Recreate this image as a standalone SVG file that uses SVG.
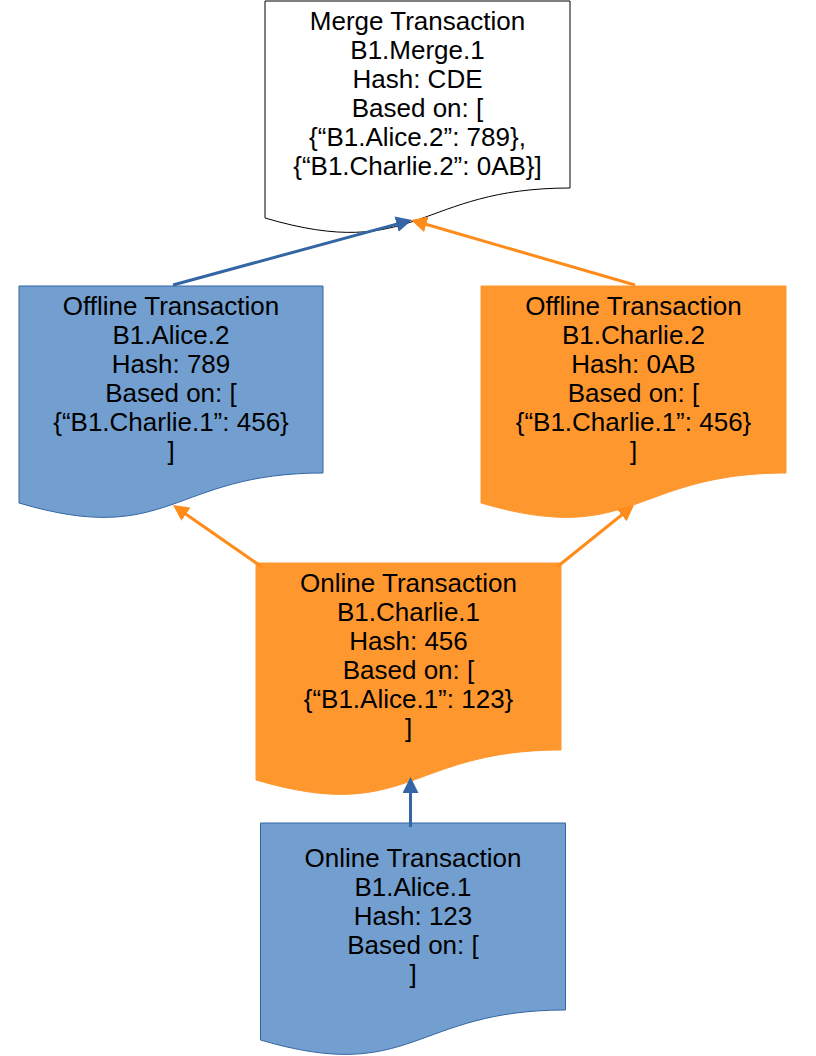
<svg xmlns="http://www.w3.org/2000/svg" width="816" height="1056" viewBox="0 0 816 1056">
<defs>
<style>
.txt{font-family:"Liberation Sans",Arial,sans-serif;font-size:26px;fill:#000;text-anchor:middle}
.white{fill:#ffffff;stroke:#000000;stroke-width:1}
.blue{fill:#729fcf;stroke:#3465a4;stroke-width:1}
.orange{fill:#ff972f;stroke:#ff972f;stroke-width:1}
.cb{fill:none;stroke:#3465a4;stroke-width:3}
.co{fill:none;stroke:#ff8c1a;stroke-width:3}
</style>
<marker id="ab" markerUnits="userSpaceOnUse" markerWidth="16" markerHeight="16" refX="4" refY="8" orient="auto" viewBox="0 0 16 16">
<path d="M0,0 L16,8 L0,16 Z" fill="#3465a4"/>
</marker>
<marker id="ao" markerUnits="userSpaceOnUse" markerWidth="16" markerHeight="16" refX="4" refY="8" orient="auto" viewBox="0 0 16 16">
<path d="M0,0 L16,8 L0,16 Z" fill="#ff8c1a"/>
</marker>
</defs>

<g id="merge">
<path class="white" d="M265,1 H570 V188 C417.5,188 417.5,263 265,218 Z"/>
<text class="txt" x="417.5"><tspan x="417.5" y="30">Merge Transaction</tspan><tspan x="417.5" y="59">B1.Merge.1</tspan><tspan x="417.5" y="88">Hash: CDE</tspan><tspan x="417.5" y="117">Based on: [</tspan><tspan x="417.5" y="146">{“B1.Alice.2”: 789},</tspan><tspan x="417.5" y="175">{“B1.Charlie.2”: 0AB}]</tspan></text>
</g>

<g id="alice2">
<path class="blue" d="M19,286 H323 V473 C171,473 171,548 19,503 Z"/>
<text class="txt"><tspan x="171" y="315">Offline Transaction</tspan><tspan x="171" y="344">B1.Alice.2</tspan><tspan x="171" y="373">Hash: 789</tspan><tspan x="171" y="402">Based on: [</tspan><tspan x="171" y="431">{“B1.Charlie.1”: 456}</tspan><tspan x="171" y="460">]</tspan></text>
</g>

<g id="charlie2">
<path class="orange" d="M481,286 H786 V473 C633.5,473 633.5,548 481,503 Z"/>
<text class="txt"><tspan x="633.5" y="315">Offline Transaction</tspan><tspan x="633.5" y="344">B1.Charlie.2</tspan><tspan x="633.5" y="373">Hash: 0AB</tspan><tspan x="633.5" y="402">Based on: [</tspan><tspan x="633.5" y="431">{“B1.Charlie.1”: 456}</tspan><tspan x="633.5" y="460">]</tspan></text>
</g>

<g id="charlie1">
<path class="orange" d="M256,563 H561 V750 C408.5,750 408.5,825 256,780 Z"/>
<text class="txt"><tspan x="408.5" y="592">Online Transaction</tspan><tspan x="408.5" y="621">B1.Charlie.1</tspan><tspan x="408.5" y="650">Hash: 456</tspan><tspan x="408.5" y="679">Based on: [</tspan><tspan x="408.5" y="708">{“B1.Alice.1”: 123}</tspan><tspan x="408.5" y="737">]</tspan></text>
</g>

<g id="alice1">
<path class="blue" d="M260.5,823 H565.5 V1010 C413,1010 413,1085 260.5,1040 Z"/>
<text class="txt"><tspan x="413" y="866.5">Online Transaction</tspan><tspan x="413" y="895.5">B1.Alice.1</tspan><tspan x="413" y="924.5">Hash: 123</tspan><tspan x="413" y="953.5">Based on: [</tspan><tspan x="413" y="982.5">]</tspan></text>
</g>

<g id="connectors">
<line class="cb" x1="173" y1="285" x2="400.4" y2="223.1" marker-end="url(#ab)"/>
<line class="co" x1="635" y1="285" x2="422.5" y2="223.3" marker-end="url(#ao)"/>
<line class="co" x1="262" y1="567" x2="182.8" y2="511.9" marker-end="url(#ao)"/>
<line class="co" x1="557" y1="567" x2="624.7" y2="512.5" marker-end="url(#ao)"/>
<line class="cb" x1="410.5" y1="827" x2="410.5" y2="789" marker-end="url(#ab)"/>
</g>
</svg>
